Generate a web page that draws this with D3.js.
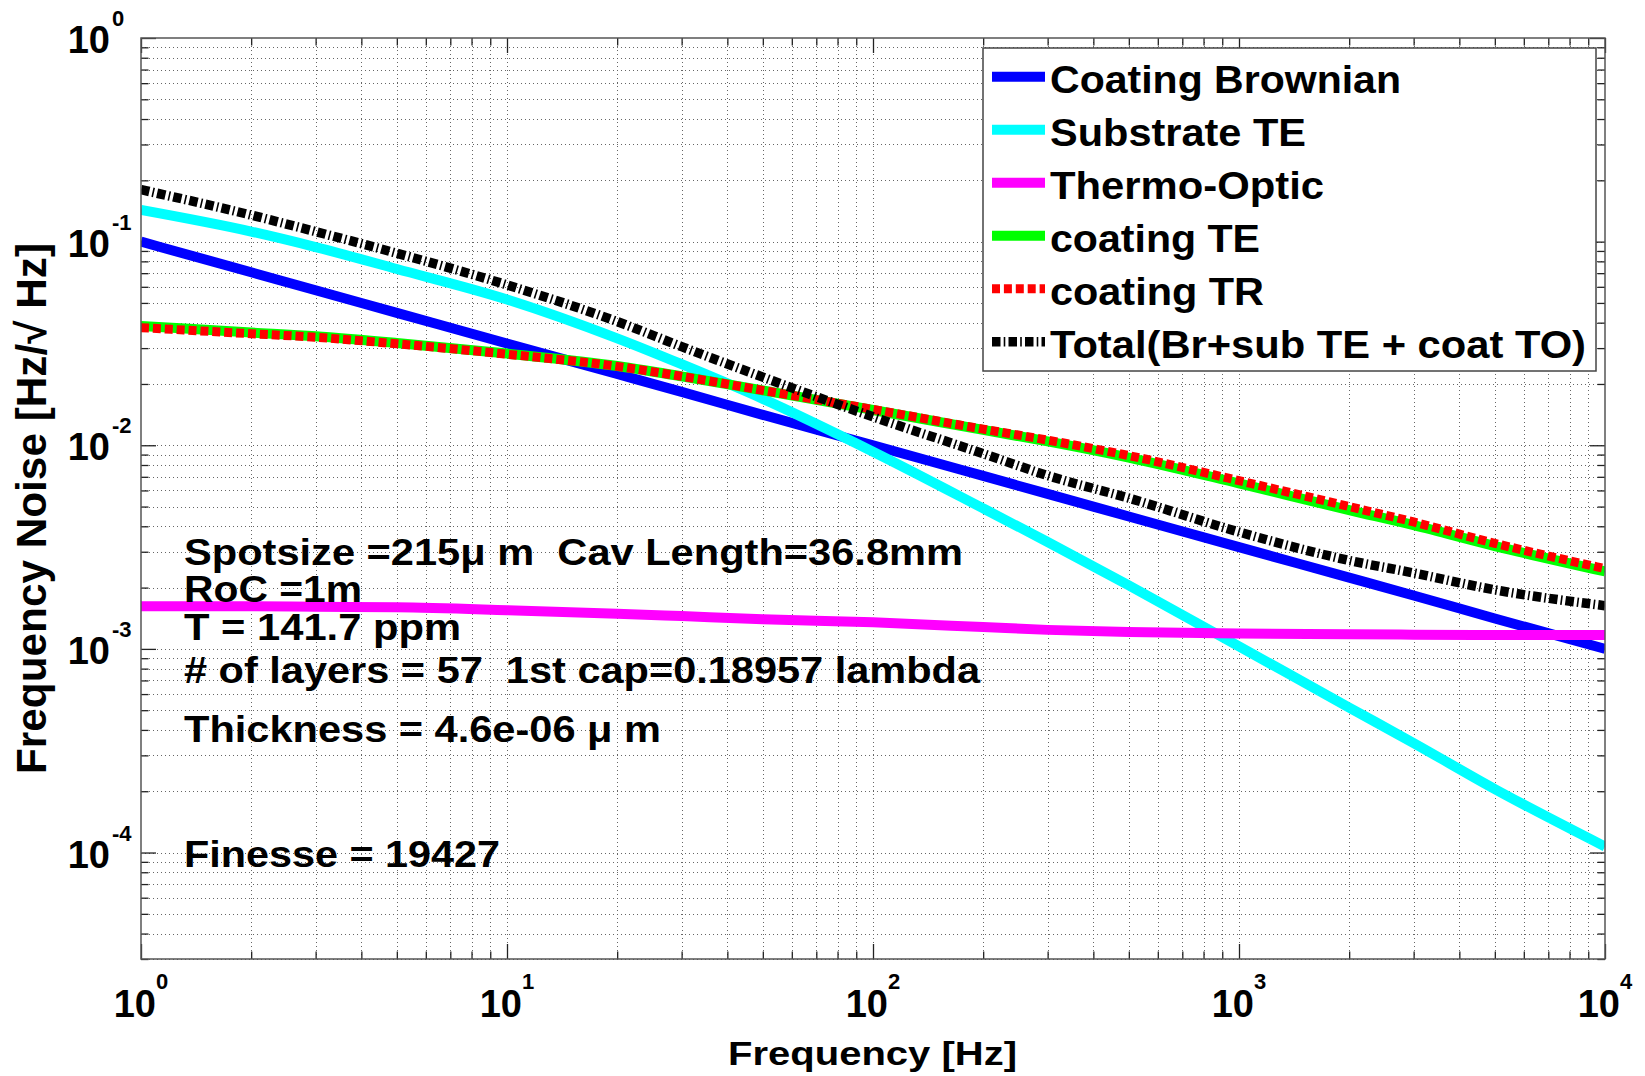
<!DOCTYPE html>
<html>
<head>
<meta charset="utf-8">
<script src="https://cdn.jsdelivr.net/npm/d3@7"></script>
<style>
  html, body { margin: 0; padding: 0; background: #fff; }
  svg text { font-family: "Liberation Sans", Arial, Helvetica, sans-serif; font-weight: bold; fill: #000; white-space: pre; }
</style>
</head>
<body>
<svg id="chart" width="1645" height="1076"></svg>
<script>
// Frequency grid (Hz) shared by every noise curve
const freq = [1, 2, 3, 5, 10, 20, 30, 50, 100, 200, 300, 500, 1000, 2000, 3000, 5000, 10000];

// Noise spectra, Hz/sqrt(Hz)
const coatingBrownian = [0.1, 0.0707, 0.0577, 0.0447, 0.0316, 0.0224, 0.0183, 0.0141, 0.01, 0.00707, 0.00577, 0.00447, 0.00316, 0.00224, 0.00183, 0.00141, 0.001];
const substrateTE     = [0.143, 0.112, 0.094, 0.0734, 0.0520, 0.0335, 0.0250, 0.0169, 0.0093, 0.0049, 0.00335, 0.00205, 0.00103, 0.000515, 0.000345, 0.000205, 0.000107];
const thermoOptic     = [0.00162, 0.00162, 0.00161, 0.00160, 0.00155, 0.00149, 0.00145, 0.00140, 0.00135, 0.00128, 0.00124, 0.00121, 0.00119, 0.00118, 0.001175, 0.00117, 0.00117];
const coatingTE       = [0.0385, 0.0358, 0.0343, 0.0318, 0.0282, 0.0245, 0.0218, 0.0186, 0.0149, 0.0119, 0.01045, 0.0087, 0.0065, 0.0048, 0.00405, 0.0032, 0.0024];
const coatingTR       = [0.0378, 0.0353, 0.0339, 0.0315, 0.0280, 0.0244, 0.0218, 0.0186, 0.0150, 0.0120, 0.0106, 0.0089, 0.0067, 0.0050, 0.0042, 0.0033, 0.00248];
const totalNoise      = [0.180, 0.135, 0.112, 0.0877, 0.0613, 0.0405, 0.0305, 0.0216, 0.0138, 0.0091, 0.0071, 0.0055, 0.00375, 0.00272, 0.00236, 0.00195, 0.00163];

const seriesNames = ["Coating Brownian", "Substrate TE", "Thermo-Optic", "coating TE", "coating TR", "Total(Br+sub TE + coat TO)"];
const seriesValues = [coatingBrownian, substrateTE, thermoOptic, coatingTE, coatingTR, totalNoise];

// Axis tick labels (powers of ten)
const xTickExponents = ["0", "1", "2", "3", "4"];
const yTickExponents = ["0", "-1", "-2", "-3", "-4"];

const xTitle = "Frequency [Hz]";
const yTitle = "Frequency Noise [Hz/\u221A Hz]";

// Cavity parameters written inside the axes
const noteLines = [
  "Spotsize =215\u03BC m  Cav Length=36.8mm",
  "RoC =1m",
  "T = 141.7 ppm",
  "# of layers = 57  1st cap=0.18957 lambda",
  "Thickness = 4.6e-06 \u03BC m",
  "Finesse = 19427"
];

// ---- layout and styles ----
const plot = { left: 141, right: 1605, top: 38, bottom: 959 };
const lineStyles = [
  { color: "#0000ff", width: 10, dash: null },
  { color: "#00ffff", width: 10, dash: null },
  { color: "#ff00ff", width: 10, dash: null },
  { color: "#00ff00", width: 10, dash: null },
  { color: "#ff0000", width: 9, dash: "8,3.9" },
  { color: "#000000", width: 9.5, dash: "8.5,3.2,1.6,3.2" }
];
const noteLayout = [
  { y: 565, len: 779 }, { y: 602, len: 178 }, { y: 640, len: 277 },
  { y: 682.5, len: 796 }, { y: 741.5, len: 477 }, { y: 866.5, len: 316 }
];
const legendLayout = { x: 983, y: 48, w: 613, h: 323, rowY: 76.7, rowStep: 53, sx0: 992, sx1: 1045, tx: 1050,
  lens: [351, 256, 274, 210, 214, 536] };

const svg = d3.select("#chart");
svg.append("rect").attr("width", 1645).attr("height", 1076).attr("fill", "#fff");

const x = d3.scaleLog().domain([1, 1e4]).range([plot.left, plot.right]);
const y = d3.scaleLog().domain([3e-5, 1]).range([plot.bottom, plot.top]);

// tick values for log axes
const xMajor = [1, 10, 100, 1000, 10000];
const xMinor = [];
xMajor.slice(0, -1).forEach(d => { for (let k = 2; k <= 9; k++) xMinor.push(d * k); });
const yMajor = [1e-4, 1e-3, 1e-2, 1e-1, 1];
const yMinor = [];
[1e-5, 1e-4, 1e-3, 1e-2, 1e-1].forEach(d => { for (let k = 2; k <= 9; k++) { const v = d * k; if (v >= 3e-5 && v < 1) yMinor.push(v); } });

// dotted grid
const grid = svg.append("g").attr("stroke", "#666").attr("stroke-width", 1).attr("stroke-dasharray", "1,3");
grid.selectAll("line.gx").data(xMajor.concat(xMinor).filter(v => v > 1 && v < 1e4)).join("line")
  .attr("x1", d => Math.round(x(d)) + 0.5).attr("x2", d => Math.round(x(d)) + 0.5)
  .attr("y1", plot.top).attr("y2", plot.bottom);
grid.selectAll("line.gy").data(yMajor.concat(yMinor).filter(v => v > 3e-5 && v < 1)).join("line")
  .attr("y1", d => Math.round(y(d)) + 0.5).attr("y2", d => Math.round(y(d)) + 0.5)
  .attr("x1", plot.left).attr("x2", plot.right);

// inward ticks on all four sides
function ticks(axisFn, pos, values, size) {
  const g = svg.append("g").attr("transform", pos).attr("color", "#222")
    .call(axisFn.tickValues(values).tickSize(-size).tickFormat(""));
  g.select(".domain").remove();
  g.selectAll("line").attr("stroke-width", 1.3);
}
ticks(d3.axisBottom(x), `translate(0,${plot.bottom})`, xMajor, 15);
ticks(d3.axisBottom(x), `translate(0,${plot.bottom})`, xMinor, 7.5);
ticks(d3.axisTop(x), `translate(0,${plot.top})`, xMajor, 15);
ticks(d3.axisTop(x), `translate(0,${plot.top})`, xMinor, 7.5);
ticks(d3.axisLeft(y), `translate(${plot.left},0)`, yMajor, 15);
ticks(d3.axisLeft(y), `translate(${plot.left},0)`, yMinor, 7.5);
ticks(d3.axisRight(y), `translate(${plot.right},0)`, yMajor, 15);
ticks(d3.axisRight(y), `translate(${plot.right},0)`, yMinor, 7.5);

// noise curves
svg.append("clipPath").attr("id", "plotClip").append("rect")
  .attr("x", plot.left).attr("y", plot.top).attr("width", plot.right - plot.left).attr("height", plot.bottom - plot.top);
const line = d3.line().x(d => x(d[0])).y(d => y(d[1])).curve(d3.curveMonotoneX);
const curves = svg.append("g").attr("clip-path", "url(#plotClip)");
seriesValues.forEach((vals, i) => {
  const st = lineStyles[i];
  curves.append("path")
    .datum(freq.map((f, j) => [f, vals[j]]))
    .attr("d", line)
    .attr("fill", "none")
    .attr("stroke", st.color)
    .attr("stroke-width", st.width)
    .attr("stroke-linecap", "butt")
    .attr("stroke-linejoin", "round")
    .attr("stroke-dasharray", st.dash);
});

// axes box
svg.append("rect").attr("x", plot.left).attr("y", plot.top)
  .attr("width", plot.right - plot.left).attr("height", plot.bottom - plot.top)
  .attr("fill", "none").attr("stroke", "#555").attr("stroke-width", 1.5);

// tick labels: 10 with a superscript exponent
xMajor.forEach((v, i) => {
  const t = svg.append("text").attr("x", x(v)).attr("y", 1017).attr("text-anchor", "middle");
  t.append("tspan").attr("font-size", 38).text("10");
  t.append("tspan").attr("font-size", 22).attr("dy", -28).text(xTickExponents[i]);
});
yMajor.slice().reverse().forEach((v, i) => {
  svg.append("text").attr("x", 110).attr("y", y(v) + 15).attr("text-anchor", "end")
    .attr("font-size", 38).text("10");
  svg.append("text").attr("x", 112).attr("y", y(v) - 12).attr("text-anchor", "start")
    .attr("font-size", 22).text(yTickExponents[i]);
});

// axis titles
svg.append("text").attr("x", 872.5).attr("y", 1065).attr("text-anchor", "middle")
  .attr("font-size", 33).attr("textLength", 289).attr("lengthAdjust", "spacingAndGlyphs").text(xTitle);
svg.append("text").attr("transform", "translate(46,508.5) rotate(-90)").attr("text-anchor", "middle")
  .attr("font-size", 42).attr("textLength", 531).attr("lengthAdjust", "spacingAndGlyphs").text(yTitle);

// parameter notes
noteLines.forEach((s, i) => {
  svg.append("text").attr("x", 184).attr("y", noteLayout[i].y)
    .attr("font-size", 36).attr("textLength", noteLayout[i].len).attr("lengthAdjust", "spacingAndGlyphs").text(s);
});

// legend
const L = legendLayout;
const leg = svg.append("g");
leg.append("rect").attr("x", L.x).attr("y", L.y).attr("width", L.w).attr("height", L.h)
  .attr("fill", "#fff").attr("stroke", "#444").attr("stroke-width", 1.5);
seriesNames.forEach((name, i) => {
  const st = lineStyles[i];
  const cy = L.rowY + i * L.rowStep;
  leg.append("line").attr("x1", L.sx0).attr("x2", L.sx1).attr("y1", cy).attr("y2", cy)
    .attr("stroke", st.color).attr("stroke-width", st.width).attr("stroke-dasharray", st.dash);
  leg.append("text").attr("x", L.tx).attr("y", cy + 16).attr("font-size", 38.5)
    .attr("textLength", L.lens[i]).attr("lengthAdjust", "spacingAndGlyphs").text(name);
});
</script>
</body>
</html>
